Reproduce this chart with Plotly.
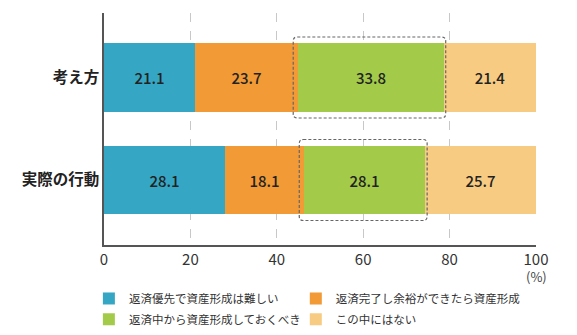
import plotly.graph_objects as go

categories = ["考え方", "実際の行動"]
series_names = [
    "返済優先で資産形成は難しい",
    "返済完了し余裕ができたら資産形成",
    "返済中から資産形成しておくべき",
    "この中にはない",
]
values = [
    [21.1, 28.1],
    [23.7, 18.1],
    [33.8, 28.1],
    [21.4, 25.7],
]
colors = ["#35A7C4", "#F29A36", "#A3CB49", "#F7CC82"]
x_ticks = [0, 20, 40, 60, 80, 100]

FONT = "Noto Sans CJK JP"
ypos = list(range(len(categories)))
bar_w = 0.67

# one legend per entry, laid out as a 2x2 grid below the axis
legend_ids = ["legend", "legend2", "legend3", "legend4"]
legend_pos = [(-0.035, -0.168), (0.444, -0.168), (-0.035, -0.258), (0.444, -0.258)]

fig = go.Figure()
for name, vals, col, lg in zip(series_names, values, colors, legend_ids):
    fig.add_trace(go.Bar(
        y=ypos, x=vals, name=name, orientation="h",
        marker=dict(color=col, line=dict(width=0)),
        width=bar_w,
        text=[f"{v:.1f}" for v in vals],
        textposition="inside", insidetextanchor="middle",
        textfont=dict(family=FONT, size=15, color="#222222", weight=500),
        hoverinfo="skip",
        legend=lg,
    ))

# dashed rounded frames around the "返済中から資産形成" segments
pad_x_left, pad_x_right, pad_y = 1.0, 0.5, 0.06
rx, ry = 0.95, 0.04
for i in ypos:
    start = values[0][i] + values[1][i]
    end = start + values[2][i]
    x0, x1 = start - pad_x_left, end + pad_x_right
    y0, y1 = i - bar_w / 2 - pad_y, i + bar_w / 2 + pad_y
    path = (
        f"M {x0 + rx},{y0} L {x1 - rx},{y0} Q {x1},{y0} {x1},{y0 + ry} "
        f"L {x1},{y1 - ry} Q {x1},{y1} {x1 - rx},{y1} "
        f"L {x0 + rx},{y1} Q {x0},{y1} {x0},{y1 - ry} "
        f"L {x0},{y0 + ry} Q {x0},{y0} {x0 + rx},{y0} Z"
    )
    fig.add_shape(type="path", path=path, xref="x", yref="y",
                  line=dict(color="#666666", width=1.2, dash="3px,2px"),
                  fillcolor="rgba(0,0,0,0)", layer="above")

fig.add_annotation(x=100, y=-0.085, xref="x", yref="paper", text="(%)",
                   showarrow=False, xanchor="center", yanchor="top",
                   font=dict(family=FONT, size=13, color="#444444"))

legend_style = dict(
    orientation="h", xanchor="left", yanchor="top",
    xref="paper", yref="paper",
    traceorder="normal",
    font=dict(family=FONT, size=11.5, color="#333333"),
    itemwidth=30, tracegroupgap=0,
    bgcolor="rgba(0,0,0,0)",
)
legends = {lg: dict(legend_style, x=px, y=py)
           for lg, (px, py) in zip(legend_ids, legend_pos)}

fig.update_layout(
    width=577, height=335,
    margin=dict(l=104, r=41, t=13, b=90, autoexpand=False),
    barmode="stack",
    bargap=0,
    paper_bgcolor="white", plot_bgcolor="white",
    font=dict(family=FONT, color="#333333"),
    showlegend=True,
    **legends,
    xaxis=dict(
        range=[0, 100], tickvals=x_ticks, ticktext=[str(t) for t in x_ticks],
        showgrid=True, gridcolor="#C8C8C8", griddash="dash", gridwidth=1,
        showline=True, linecolor="#555555", linewidth=1.5,
        ticks="", zeroline=False,
        tickfont=dict(family=FONT, size=15, color="#333333"),
    ),
    yaxis=dict(
        range=[1.634, -0.629], tickvals=ypos,
        ticktext=[f"<b>{c}</b>" for c in categories],
        showgrid=False, showline=True, linecolor="#555555", linewidth=1.5,
        ticks="", ticklen=0, zeroline=False,
        tickfont=dict(family=FONT, size=15.5, color="#222222"),
    ),
)

fig.write_html("out.html")
